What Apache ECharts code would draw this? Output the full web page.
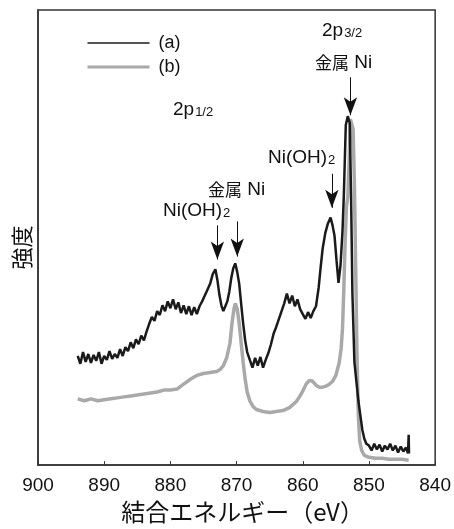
<!DOCTYPE html>
<html>
<head>
<meta charset="utf-8">
<script src="https://cdn.jsdelivr.net/npm/echarts@6/dist/echarts.min.js"></script>
<style>
    html, body {margin: 0; padding: 0; background: #fff;}
    #main {width: 454px; height: 529px;}
</style>
</head>
<body>
<div id="main"></div>
<script>
// binding energy (eV) / intensity (a.u.) pairs
var seriesA = [
    [894.0, 112], [893.6, 104], [893.2, 116], [892.8, 106], [892.4, 114], [892.0, 105],
    [891.6, 113], [891.2, 107], [890.8, 116], [890.4, 104], [890.0, 112], [889.6, 108],
    [889.2, 117], [888.8, 109], [888.4, 114], [888.0, 110], [887.6, 119], [887.2, 112],
    [886.8, 121], [886.4, 117], [886.0, 126], [885.6, 120], [885.2, 129], [884.8, 124],
    [884.4, 133], [884.0, 128], [883.6, 137], [883.2, 145], [882.8, 152], [882.4, 148],
    [882.0, 158], [881.6, 154], [881.2, 164], [880.8, 158], [880.4, 168], [880.0, 161],
    [879.6, 170], [879.2, 160], [878.8, 167], [878.4, 156], [878.0, 164], [877.6, 155],
    [877.2, 163], [876.8, 154], [876.4, 162], [876.0, 155], [875.6, 163], [875.2, 168],
    [874.8, 174], [874.4, 180], [874.0, 186], [873.6, 196], [873.2, 201], [872.9, 190],
    [872.6, 175], [872.3, 164], [872.0, 158], [871.7, 163], [871.4, 168], [871.1, 178],
    [870.8, 192], [870.5, 202], [870.2, 207], [869.9, 198], [869.6, 186], [869.3, 165],
    [869.0, 145], [868.7, 128], [868.4, 116], [868.0, 108], [867.6, 100], [867.2, 110],
    [866.8, 102], [866.4, 111], [866.0, 100], [865.6, 108], [865.2, 115], [864.8, 124],
    [864.4, 135], [864.0, 142], [863.6, 150], [863.2, 158], [862.8, 166], [862.4, 176],
    [862.0, 166], [861.6, 174], [861.2, 163], [860.8, 170], [860.4, 160], [860.0, 155],
    [859.6, 150], [859.2, 157], [858.8, 151], [858.4, 158], [858.0, 163], [857.6, 182],
    [857.3, 203], [857.0, 222], [856.6, 238], [856.2, 248], [855.8, 254], [855.5, 246],
    [855.2, 235], [854.9, 210], [854.6, 187], [854.3, 205], [854.0, 240], [853.8, 276],
    [853.5, 349], [853.2, 358], [852.9, 351], [852.7, 276], [852.5, 176], [852.2, 106],
    [851.9, 86], [851.6, 66], [851.3, 51], [851.0, 36], [850.7, 27], [850.4, 22],
    [850.0, 20], [849.6, 15], [849.2, 22], [848.8, 16], [848.4, 21], [848.0, 14],
    [847.6, 20], [847.2, 16], [846.8, 22], [846.4, 15], [846.0, 20], [845.6, 13],
    [845.2, 19], [844.8, 14], [844.4, 18], [844.1, 12], [844.0, 31], [843.95, 12]
];

var seriesB = [
    [894.0, 68], [893.0, 66], [892.0, 68], [891.0, 66], [890.0, 67], [889.0, 68],
    [888.0, 69], [887.0, 70], [886.0, 71], [885.0, 72], [884.0, 73], [883.0, 74],
    [882.0, 75], [881.0, 77], [880.0, 77], [879.0, 78], [878.0, 83], [877.0, 88],
    [876.0, 92], [875.0, 94], [874.0, 95], [873.0, 96], [872.5, 98], [872.0, 102],
    [871.5, 110], [871.0, 125], [870.7, 145], [870.4, 160], [870.2, 166], [869.9, 160],
    [869.6, 145], [869.3, 125], [869.0, 105], [868.7, 88], [868.4, 75], [868.0, 66],
    [867.5, 60], [867.0, 57], [866.0, 55], [865.0, 54], [864.0, 55], [863.0, 56],
    [862.0, 59], [861.0, 65], [860.5, 70], [860.0, 76], [859.5, 83], [859.0, 87],
    [858.5, 86], [858.0, 82], [857.5, 80], [857.0, 80], [856.5, 81], [856.0, 83],
    [855.5, 86], [855.0, 92], [854.5, 105], [854.2, 120], [854.0, 140], [853.8, 180],
    [853.6, 230], [853.4, 265], [853.2, 275], [853.0, 310], [852.8, 355], [852.6, 357],
    [852.4, 345], [852.2, 290], [852.0, 200], [851.8, 110], [851.6, 50], [851.4, 25],
    [851.1, 15], [850.7, 10], [850.0, 8], [849.0, 7], [848.0, 7], [847.0, 6],
    [846.0, 6], [845.0, 6], [844.0, 5]
];

var xTicks = [900, 890, 880, 870, 860, 850, 840];

// arrows: [energy, from, to]
var arrows = [
    [852.8, 398, 359],
    [855.6, 299, 264],
    [869.9, 250, 214],
    [872.9, 246, 211]
];

var latin = '"Liberation Sans", Arial, "Noto Sans CJK JP", sans-serif';
var cjk = '"Noto Sans CJK JP", "Liberation Sans", sans-serif';

var chart = echarts.init(document.getElementById('main'));

function label(x, y, rich, text) {
    return {
        type: 'text',
        left: x,
        top: y,
        style: {
            text: text,
            rich: rich,
            fill: '#111',
            font: '19px ' + latin
        }
    };
}

var richSub = {
    b: {fontSize: 19, fontFamily: latin, color: '#111', verticalAlign: 'bottom'},
    s: {fontSize: 13, fontFamily: latin, color: '#111', padding: [8, 0, 0, 1]},
    j: {fontSize: 17, fontFamily: cjk, color: '#111'}
};

var option = {
    animation: false,
    backgroundColor: '#fff',
    grid: {
        left: 38,
        right: 17,
        top: 10,
        bottom: 53,
        show: true,
        borderColor: '#333',
        borderWidth: 1.5
    },
    legend: {
        orient: 'vertical',
        left: 86,
        top: 34,
        padding: 0,
        itemWidth: 62,
        itemHeight: 14,
        itemGap: 6,
        textStyle: {fontSize: 18, fontFamily: latin, color: '#111', padding: [0, 0, 0, 4]},
        data: [
            {name: '(a)', lineStyle: {width: 1.5}, itemStyle: {opacity: 0}},
            {name: '(b)', lineStyle: {width: 3}, itemStyle: {opacity: 0}}
        ]
    },
    xAxis: {
        type: 'value',
        min: 840,
        max: 900,
        interval: 10,
        inverse: true,
        name: '結合エネルギー（eV）',
        nameLocation: 'middle',
        nameGap: 33,
        nameTextStyle: {fontSize: 24, fontFamily: cjk, color: '#111', padding: [0, 0, 0, 12]},
        axisLine: {lineStyle: {color: '#333', width: 1.5}},
        axisTick: {inside: true, length: 4, lineStyle: {color: '#333'}},
        axisLabel: {
            fontSize: 19,
            fontFamily: latin,
            color: '#111',
            margin: 11,
            formatter: function (v) {
                return xTicks.indexOf(v) >= 0 ? String(v) : '';
            }
        },
        splitLine: {show: false}
    },
    yAxis: {
        type: 'value',
        min: 0,
        max: 467,
        name: '強度',
        nameLocation: 'middle',
        nameRotate: 90,
        nameGap: 5,
        nameTextStyle: {fontSize: 22, fontFamily: cjk, color: '#111', padding: [0, 0, 0, -20]},
        axisLine: {show: true, lineStyle: {color: '#333', width: 1.5}},
        axisTick: {show: false},
        axisLabel: {show: false},
        splitLine: {show: false}
    },
    series: [{
        name: '(b)',
        type: 'line',
        data: seriesB,
        symbol: 'none',
        showSymbol: false,
        color: '#a9a9a9',
        lineStyle: {width: 3.5, color: '#a9a9a9'},
        z: 2
    }, {
        name: '(a)',
        type: 'line',
        data: seriesA,
        symbol: 'none',
        showSymbol: false,
        color: '#1a1a1a',
        lineStyle: {width: 2.5, color: '#1a1a1a'},
        z: 3,
        markLine: {
            silent: true,
            symbol: ['none', 'arrow'],
            symbolSize: [10, 18],
            label: {show: false},
            lineStyle: {color: '#111', width: 1, type: 'solid'},
            data: arrows.map(function (a) {
                return [{coord: [a[0], a[1]]}, {coord: [a[0], a[2]]}];
            })
        }
    }],
    graphic: [
        label(322, 21, richSub, '{b|2p}{s|3/2}'),
        label(315, 53, richSub, '{j|金属} {b|Ni}'),
        label(173, 100, richSub, '{b|2p}{s|1/2}'),
        label(268, 148, richSub, '{b|Ni(OH)}{s|2}'),
        label(208, 180, richSub, '{j|金属} {b|Ni}'),
        label(163, 201, richSub, '{b|Ni(OH)}{s|2}')
    ]
};

chart.setOption(option);
</script>
</body>
</html>
